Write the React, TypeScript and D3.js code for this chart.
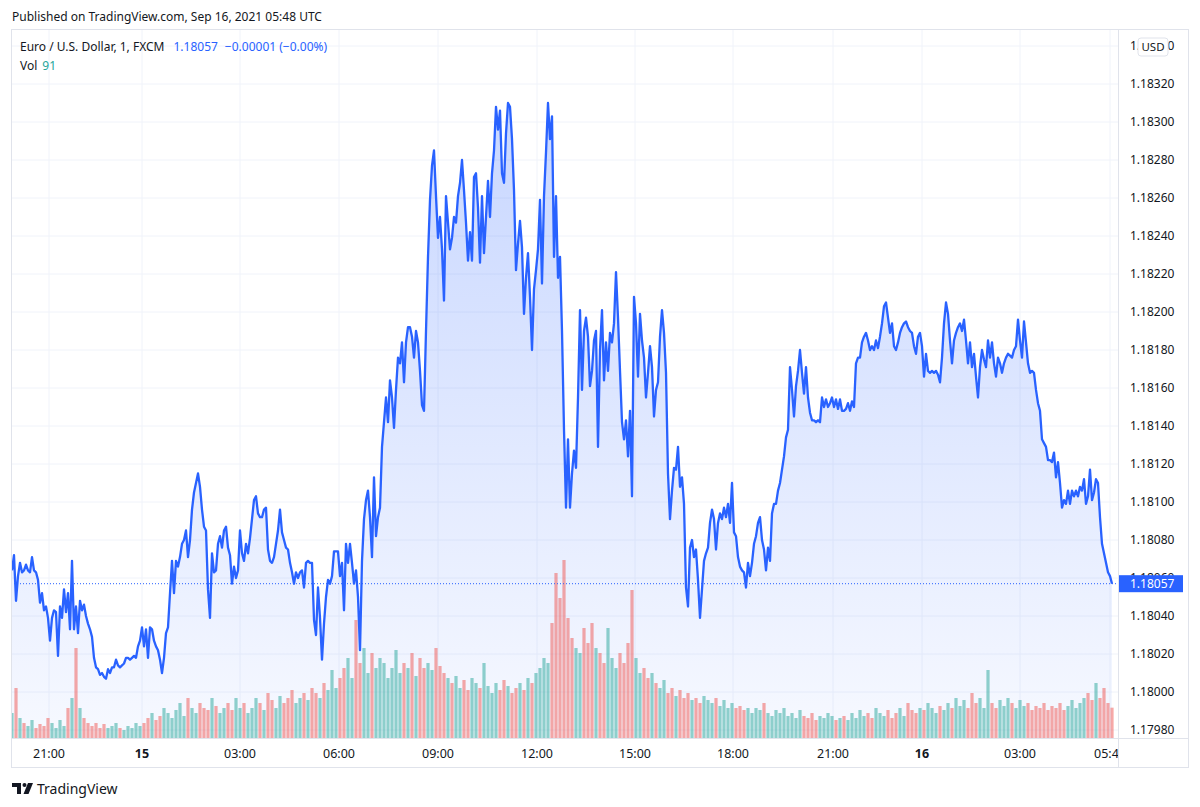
import React from "react";
import * as d3 from "d3";

// EUR/USD 1-minute closes (FXCM), one sample every ~3.6 bars
const closesSep14 = [
  1.18064, 1.18072, 1.18048, 1.18061, 1.18068, 1.18063, 1.18064, 1.18067, 1.18064, 1.18063,
  1.18071, 1.18064, 1.18063, 1.18059, 1.18047, 1.18052, 1.18043, 1.18045, 1.18039, 1.18027,
  1.18039, 1.18043, 1.18042, 1.18019, 1.18045, 1.18039, 1.18054, 1.18042, 1.18052, 1.18033,
  1.18069, 1.18033, 1.18045, 1.18031, 1.18048, 1.18043, 1.18046, 1.1804, 1.18036, 1.18033,
  1.18029, 1.18018, 1.18013, 1.18012, 1.18009, 1.1801, 1.18008, 1.18007, 1.18012, 1.1801,
  1.18013, 1.18013, 1.18017, 1.18014, 1.18013, 1.18014, 1.18015, 1.18018, 1.18018, 1.18017,
  1.18018, 1.18019, 1.18018, 1.18024, 1.18027,
];

const closesSep15 = [
  1.18034, 1.18024, 1.18033, 1.18018, 1.18034, 1.18033, 1.18027, 1.18024, 1.18022, 1.18017,
  1.1801, 1.18018, 1.18031, 1.18034, 1.18052, 1.18069, 1.18052, 1.18069, 1.18066, 1.18071,
  1.18078, 1.1808, 1.18085, 1.18071, 1.1808, 1.18096, 1.18105, 1.1811, 1.18115, 1.18108,
  1.18096, 1.18087, 1.18085, 1.18054, 1.18039, 1.18073, 1.18063, 1.18064, 1.18078, 1.18082,
  1.18076, 1.18085, 1.18087, 1.18076, 1.18072,
  1.18057, 1.18066, 1.1806, 1.18064, 1.18085, 1.18073, 1.18069, 1.18078, 1.18073, 1.18081,
  1.18091, 1.18101, 1.18103, 1.18094, 1.18092, 1.18092, 1.18096, 1.18097, 1.18075, 1.18069,
  1.18068, 1.18071, 1.18078, 1.18085, 1.18096, 1.18084, 1.1808, 1.18076, 1.18075, 1.18068,
  1.18063, 1.18057, 1.18063, 1.1806, 1.18063, 1.18064, 1.18055, 1.18068, 1.18069, 1.18068,
  1.18068, 1.18038, 1.1803, 1.18055, 1.18039, 1.18017, 1.18036, 1.1805, 1.18059, 1.18057,
  1.18061, 1.18074, 1.18074, 1.18074, 1.18061, 1.18068, 1.18043, 1.18078, 1.18068, 1.18078,
  1.18068, 1.18057, 1.18064, 1.1805, 1.18022, 1.18069, 1.18091, 1.18101, 1.18106, 1.18092,
  1.18071, 1.18113, 1.18082, 1.18092, 1.18097, 1.18129, 1.18142, 1.18155, 1.18142, 1.18164,
  1.18155, 1.18139, 1.18159, 1.18176, 1.18173, 1.18184, 1.18163, 1.18184, 1.18192, 1.18192,
  1.18187, 1.18176, 1.1819, 1.18184, 1.18169, 1.18151, 1.18148, 1.1819, 1.18229, 1.18259,
  1.18277, 1.18285, 1.18261, 1.18239, 1.1825, 1.18233, 1.18206, 1.18261, 1.18247,
  1.18233, 1.18239, 1.1825, 1.18247, 1.18261, 1.18268, 1.1828, 1.18264, 1.18247, 1.18227,
  1.18242, 1.18227, 1.18271, 1.18273, 1.18255, 1.18226, 1.18261, 1.18231, 1.1825, 1.18269,
  1.1825, 1.18273, 1.18285, 1.18308, 1.18296, 1.18306, 1.18273, 1.18268, 1.18294, 1.1831,
  1.18308, 1.18291, 1.18264, 1.18222, 1.18236, 1.18248, 1.18234, 1.18199, 1.18218, 1.18231,
  1.18208, 1.1818, 1.18212, 1.18222, 1.18233, 1.18259, 1.18215, 1.18261, 1.18284, 1.1831,
  1.18291, 1.18303, 1.18229, 1.18261, 1.18218, 1.18229, 1.1819, 1.18138, 1.18097, 1.18133,
  1.18097, 1.18115, 1.18127, 1.18118, 1.18155, 1.18201, 1.18159, 1.1819, 1.18197, 1.18187,
  1.18161, 1.18169, 1.18185, 1.1819, 1.18129, 1.1818, 1.18201, 1.18164, 1.18184, 1.18169,
  1.18189, 1.18184, 1.18194, 1.18221, 1.18197, 1.18169, 1.18142, 1.18133, 1.18143, 1.18124,
  1.18148, 1.18103, 1.18208, 1.18194, 1.18166, 1.18199, 1.18185, 1.18176, 1.18155, 1.18168,
  1.18182, 1.18171, 1.18145, 1.18159, 1.18163, 1.18187, 1.18201, 1.18189, 1.18168, 1.18115,
  1.18091, 1.18106, 1.18118, 1.18117, 1.18129, 1.18108, 1.18113, 1.18099, 1.18055, 1.18045,
  1.18076, 1.1808, 1.18071, 1.18075, 1.18059, 1.18039, 1.18054, 1.18069, 1.18073, 1.18076,
  1.18089, 1.18096, 1.18091, 1.18075, 1.18089, 1.18094, 1.18091, 1.18097, 1.18092, 1.18099,
  1.18089, 1.1811, 1.18084, 1.18082, 1.18071, 1.18066, 1.18064, 1.18063, 1.18055, 1.18068,
  1.18061, 1.18068, 1.18078, 1.18082, 1.18089, 1.18092, 1.1808, 1.18075, 1.18064, 1.18076,
  1.18069, 1.18094, 1.18099, 1.18099, 1.18106, 1.1811, 1.18117, 1.18124, 1.18134, 1.18138,
  1.18171, 1.18159, 1.18145, 1.18161, 1.18169, 1.1818, 1.18168, 1.18157, 1.18171, 1.18155,
  1.18147, 1.18143, 1.18143, 1.18142, 1.18143, 1.18142, 1.18155, 1.1815, 1.18154, 1.1815,
  1.18152, 1.18155, 1.1815, 1.18154, 1.18149, 1.18154, 1.18148, 1.18148, 1.18149, 1.18152,
  1.18148, 1.18153, 1.1815, 1.18173, 1.18176, 1.18176, 1.18184, 1.18187, 1.18189, 1.18185,
  1.1818, 1.18182, 1.1818, 1.18185, 1.18181, 1.18187, 1.18194, 1.18203, 1.18205, 1.18197,
  1.18189, 1.18194, 1.18182, 1.1818, 1.18184, 1.18189, 1.18192, 1.18194, 1.18195, 1.18192,
  1.1819, 1.18189, 1.18182, 1.18178, 1.18187, 1.18189,
];

const closesSep16 = [
  1.18182, 1.18166, 1.18178, 1.18169, 1.18168, 1.18169, 1.18168, 1.18169, 1.18167, 1.18163,
  1.18176, 1.18194, 1.18205, 1.18199, 1.18185, 1.18173, 1.18185, 1.18189, 1.18192, 1.18194,
  1.1819, 1.18196, 1.18185, 1.18173, 1.18184, 1.18171, 1.18178, 1.18166, 1.18155, 1.18171,
  1.1818, 1.18175, 1.18171, 1.18185, 1.18176, 1.18184, 1.18173, 1.18166, 1.18176, 1.18173,
  1.18168, 1.18173, 1.18176, 1.18178, 1.18177, 1.18176, 1.1818, 1.18182, 1.18196, 1.18185,
  1.18176, 1.18195, 1.18184, 1.18173, 1.18168, 1.18169, 1.18168, 1.18159, 1.18152, 1.18148,
  1.18133, 1.18131, 1.18129, 1.18122, 1.18122, 1.18121, 1.18126, 1.18113, 1.18121, 1.1811,
  1.18097, 1.18101, 1.18099, 1.18106, 1.18099, 1.18106, 1.18103, 1.18106, 1.18103, 1.18108,
  1.18106, 1.18112, 1.18099, 1.18103, 1.18117, 1.18101, 1.18105, 1.18112, 1.1811, 1.18092,
  1.18078, 1.18073, 1.18068, 1.18063, 1.18061, 1.18057,
];

// volume, one value for every second close sample
const volumeSep14 = [
  75, 150, 60, 45, 36, 54, 30, 42, 36, 60, 45, 30, 54, 36, 90,
  120, 270, 90, 60, 45, 36, 45, 30, 42, 30, 36, 45, 30, 24, 36, 30, 45, 36,
];

const volumeSep15 = [
  45, 60, 75, 54, 66, 90, 75, 60, 84, 105, 66, 120, 90, 75, 105, 90, 84, 120, 96, 75, 90, 105, 84, 120, 90, 105, 75,
  90, 120, 105, 84, 135, 114, 90, 126, 105, 120, 144, 105, 120, 135, 114, 150, 135, 120, 165, 144, 204, 150, 180,
  210, 240, 180, 354, 225, 270, 195, 255, 210, 240, 225, 180, 210, 264, 195, 225, 210, 255, 186, 240, 210, 225, 204, 270, 216,
  195, 180, 165, 186, 150, 174, 144, 180, 165, 150, 225, 156, 135, 165, 144, 174, 156, 135, 150, 165, 144, 180, 165, 195, 210,
  240, 225, 345, 495, 420, 534, 360, 300, 270, 255, 330, 285, 345, 270, 255, 225, 330, 240, 210, 255, 225, 285, 444, 240, 195,
  210, 180, 195, 165, 150, 174, 135, 150, 126, 144, 120, 135, 114, 120, 105, 126, 114, 105, 120, 96, 114, 90, 105, 90, 96,
  84, 90, 75, 90, 84, 105, 75, 66, 84, 75, 90, 66, 75, 60, 84, 66, 60, 75, 54, 66, 60, 75, 66, 54, 60,
  66, 54, 75, 60, 84, 66, 75, 60, 90, 75, 66, 84, 60, 75, 90, 66, 105, 84, 75, 90,
];

const volumeSep16 = [
  84, 105, 90, 75, 96,
  84, 105, 90, 120, 96, 114, 90, 135, 105, 120, 90, 204, 105, 90, 114, 96, 120, 105, 90, 114, 96, 105, 84, 96, 90,
  105, 84, 96, 90, 105, 84, 96, 114, 90, 105, 120, 135, 114, 165, 120, 150, 105, 91,
];

// time axis: labels and the close-sample index each one sits on
const timeLabels = ["21:00", "15", "03:00", "06:00", "09:00", "12:00", "15:00", "18:00", "21:00", "16", "03:00", "05:40"];
const timeLabelIndex = [18.5, 65, 114, 163.5, 213, 262.5, 311.5, 360.5, 410.5, 455, 504, 549];
const dayLabels = ["15", "16"];

const lastChange = -0.00001;

const FONT = "'Noto Sans', 'DejaVu Sans', sans-serif";
const TEXT = "#131722";
const BLUE = "#2962ff";
const GRID = "#f0f3fa";
const BORDER = "#e0e3eb";

export default function App() {
  const width = 1200;
  const height = 807;
  const plot = { left: 11, right: 1118, top: 30, bottom: 738 };
  const frameRight = 1188;
  const frameBottom = 768;

  const closes = [...closesSep14, ...closesSep15, ...closesSep16];
  const volumes = [...volumeSep14, ...volumeSep15, ...volumeSep16];
  const last = closes[closes.length - 1];

  const x = d3.scaleLinear().domain([0, closes.length - 1]).range([12, 1112]);
  const xv = d3.scaleLinear().domain([0, volumes.length - 1]).range([12, 1112]);
  const y = d3.scaleLinear().domain([1.1798, 1.1834]).range([730, 46]);
  const yv = d3.scaleLinear().domain([0, d3.max(volumes) as number]).range([plot.bottom, plot.bottom - 178]);

  const line = d3
    .line<number>()
    .x((_, i) => x(i))
    .y((d) => y(d));
  const area = d3
    .area<number>()
    .x((_, i) => x(i))
    .y0(plot.bottom)
    .y1((d) => y(d));

  const priceTicks = y.ticks(18);
  const fmt = d3.format(".5f");

  const volColor = (k: number) => {
    const i = Math.min(k * 2, closes.length - 1);
    const prev = closes[Math.max(i - 2, 0)];
    return closes[i] >= prev ? "rgba(38,166,154,0.5)" : "rgba(239,83,80,0.5)";
  };

  return (
    <svg
      width={width}
      height={height}
      style={{ position: "absolute", left: 0, top: 0, background: "#fff" }}
      fontFamily={FONT}
    >
      <defs>
        <linearGradient id="areaFill" gradientUnits="userSpaceOnUse" x1="0" y1="100" x2="0" y2={plot.bottom}>
          <stop offset="0" stopColor={BLUE} stopOpacity={0.26} />
          <stop offset="1" stopColor={BLUE} stopOpacity={0.04} />
        </linearGradient>
        <clipPath id="plotClip">
          <rect x={plot.left} y={plot.top} width={plot.right - plot.left} height={plot.bottom - plot.top} />
        </clipPath>
      </defs>

      <rect width={width} height={height} fill="#fff" />

      <text x={12} y={21} fontSize={12} fill={TEXT}>
        Published on TradingView.com, Sep 16, 2021 05:48 UTC
      </text>

      {/* grid */}
      <g clipPath="url(#plotClip)">
        {priceTicks.map((t) => (
          <line key={t} x1={plot.left} x2={plot.right} y1={y(t)} y2={y(t)} stroke={GRID} />
        ))}
        {timeLabelIndex.map((t, i) => (
          <line key={i} x1={x(t)} x2={x(t)} y1={plot.top} y2={plot.bottom} stroke={GRID} />
        ))}
      </g>

      <g clipPath="url(#plotClip)">
        <path d={area(closes) || ""} fill="url(#areaFill)" />
        {volumes.map((v, k) => (
          <rect key={k} x={xv(k) - 1.6} width={3.2} y={yv(v)} height={plot.bottom - yv(v)} fill={volColor(k)} />
        ))}
        <path d={line(closes) || ""} fill="none" stroke={BLUE} strokeWidth={2.3} strokeLinejoin="round" />
        <line
          x1={plot.left}
          x2={plot.right}
          y1={y(last)}
          y2={y(last)}
          stroke={BLUE}
          strokeDasharray="1 2"
          strokeWidth={1}
        />
      </g>

      {/* frame */}
      <rect
        x={plot.left + 0.5}
        y={plot.top - 0.5}
        width={frameRight - plot.left}
        height={frameBottom - plot.top}
        fill="none"
        stroke={BORDER}
      />
      <line x1={plot.right + 0.5} x2={plot.right + 0.5} y1={plot.top} y2={frameBottom} stroke={BORDER} />
      <line x1={plot.left} x2={frameRight} y1={plot.bottom + 0.5} y2={plot.bottom + 0.5} stroke={BORDER} />

      {/* price axis */}
      {priceTicks.map((t) => (
        <text key={t} x={1130} y={y(t)} dy="0.35em" fontSize={12} fill={TEXT}>
          {fmt(t)}
        </text>
      ))}
      <rect x={1138} y={38} width={30} height={18} rx={3} fill="#fff" stroke={BORDER} />
      <text x={1153} y={47} dy="0.35em" textAnchor="middle" fontSize={11.5} fill={TEXT}>
        USD
      </text>
      <rect x={1119} y={y(last) - 8.5} width={64} height={17} fill={BLUE} />
      <text x={1130} y={y(last)} dy="0.35em" fontSize={12} fill="#fff">
        {fmt(last)}
      </text>

      {/* time axis */}
      <svg x={plot.left} y={plot.bottom} width={plot.right - plot.left} height={30} overflow="hidden">
        {timeLabels.map((lab, i) => (
          <text
            key={i}
            x={x(timeLabelIndex[i]) - plot.left}
            y={16}
            dy="0.35em"
            textAnchor="middle"
            fontSize={12.5}
            fontWeight={dayLabels.includes(lab) ? 700 : 400}
            fill={TEXT}
          >
            {lab}
          </text>
        ))}
      </svg>

      {/* legend */}
      <text x={20} y={47} dy="0.35em" fontSize={12} fill={TEXT}>
        Euro / U.S. Dollar, 1, FXCM
        <tspan dx={9} fill={BLUE}>
          {fmt(last)}
        </tspan>
        <tspan dx={7} fill={BLUE}>
          {"\u2212" + fmt(Math.abs(lastChange)) + " (\u22120.00%)"}
        </tspan>
      </text>
      <text x={20} y={66} dy="0.35em" fontSize={12} fill={TEXT}>
        Vol
        <tspan dx={5} fill="#26a69a">
          {volumes[volumes.length - 1]}
        </tspan>
      </text>

      {/* footer logo */}
      <g fill={TEXT}>
        <path d="M12 783 h9 v11 h-4 v-7 h-5 z" />
        <circle cx={24.5} cy={785} r={2} />
        <path d="M28 783 h5 l-4.5 11 h-5 z" />
      </g>
      <text x={37} y={789} dy="0.35em" fontSize={14} fill={TEXT}>
        TradingView
      </text>
    </svg>
  );
}
